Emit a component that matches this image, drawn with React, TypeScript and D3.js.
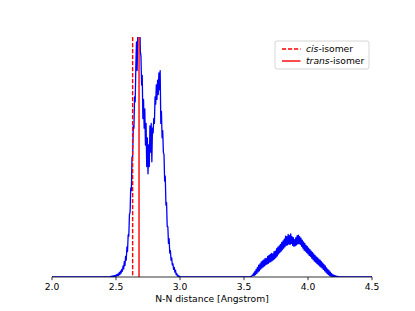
import * as d3 from "d3";

// bin start and step of the two sampled segments (Angstrom)
const peakStart = 2.45;
const humpStart = 3.55;
const binStep = 0.005;

// density, first (2.45 – 3.00) and second (3.55 – 4.25) segments
const peakDensity = [
  0, 0.2, 0, 0.3, 0.1, 0.4, 0.1, 0.6, 0.2, 0.7, 0.3, 1.0, 0.5, 1.3, 0.6, 1.8, 1.0, 2.4, 1.6, 3.2,
  2.4, 4.6, 3.4, 6.4, 4.8, 8.6, 7.0, 12.4, 10.6, 17.5,
  17.0, 26.0, 27.0, 37.0, 36.0, 50.0, 50.0, 63.0, 62.0, 75.0,
  73.0, 88.0, 98.0, 86.0, 101.0, 100.0, 110.0, 112.0, 94.0, 92.0,
  80.0, 84.0, 66.0, 74.0, 62.0, 70.0, 55.0, 64.0, 46.0, 58.0,
  43.0, 55.0, 46.0, 63.0, 52.0, 64.0, 48.0, 62.0, 60.0, 66.0,
  64.0, 75.0, 72.0, 80.0, 74.0, 82.0, 76.0, 85.0, 78.0, 86.0,
  64.0, 69.0, 58.0, 61.0, 52.0, 51.0, 40.0, 42.0, 30.0, 31.0,
  21.0, 21.0, 14.0, 16.0, 10.0, 11.0, 7.0, 8.0, 5.0, 5.5,
  3.2, 4.0, 2.0, 2.8, 1.0, 1.4, 0.4, 0.7, 0.1, 0.3, 0,
];
const humpDensity = [
  0, 0.3, 0.3, 0.8, 0.6, 1.6, 0.6, 2.3, 1.0, 3.2, 1.5, 4.0, 2.1, 4.9, 2.6, 5.5, 3.3, 6.3, 3.8, 6.7,
  4.2, 7.1, 4.6, 7.7, 5.1, 7.6, 5.4, 8.6, 5.7, 9.0, 6.2, 9.4, 6.4, 9.8, 6.8, 9.6, 7.2, 10.6, 7.6,
  10.8, 8.2, 11.8, 8.8, 12.4, 9.6, 13.0, 10.2, 13.6, 10.8, 14.4, 11.4, 15.0, 12.0, 15.8, 12.6, 17.0,
  13.2, 16.8, 13.4, 17.8, 13.8, 17.2, 13.6, 18.0, 14.0, 16.8, 13.2, 16.4, 12.8, 15.6, 13.0, 16.4,
  13.4, 17.2, 13.8, 17.4, 14.0, 16.8, 13.6, 16.2, 12.8, 15.4, 12.0, 14.6, 11.2, 14.0, 10.8, 13.2,
  10.2, 12.6, 9.6, 12.0, 9.0, 11.4, 8.6, 10.8, 7.8, 10.2, 7.2, 9.6, 6.6, 9.0, 6.2, 8.4, 5.6, 8.0,
  5.2, 7.4, 4.6, 7.0, 4.2, 6.4, 3.8, 5.8, 3.2, 5.2, 2.6, 4.6, 2.0, 3.8, 1.4, 3.2, 1.0, 2.6, 0.6,
  2.0, 0.3, 1.4, 0.2, 1.0, 0.1, 0.7, 0, 0.5, 0, 0.3, 0, 0.2, 0, 0.1, 0, 0,
];

const xTicks = [2.0, 2.5, 3.0, 3.5, 4.0, 4.5];
const isomers = [
  { label: "cis", distance: 2.63, dash: "4.2 1.8" },
  { label: "trans", distance: 2.68, dash: "" },
];

const width = 415;
const height = 311;
const MARGIN = { top: 37, right: 43, bottom: 34, left: 52 };
const FONT = "DejaVu Sans, sans-serif";

const App = () => {
  const boundsWidth = width - MARGIN.left - MARGIN.right;
  const boundsHeight = height - MARGIN.top - MARGIN.bottom;

  const xScale = d3.scaleLinear().domain([2.0, 4.5]).range([0, boundsWidth]);
  const yScale = d3.scaleLinear().domain([0, 100]).range([boundsHeight, 0]);

  const points: [number, number][] = [[2.0, 0]];
  peakDensity.forEach((v, i) => points.push([peakStart + i * binStep, v]));
  humpDensity.forEach((v, i) => points.push([humpStart + i * binStep, v]));
  points.push([4.5, 0]);

  const line = d3
    .line<[number, number]>()
    .x((d) => xScale(d[0]))
    .y((d) => yScale(d[1]));

  return (
    <svg
      width={width}
      height={height}
      style={{ position: "absolute", left: 0, top: 0, fontFamily: FONT }}
    >
      <defs>
        <clipPath id="plot">
          <rect x={0} y={0} width={boundsWidth} height={boundsHeight} />
        </clipPath>
      </defs>
      <g transform={`translate(${MARGIN.left},${MARGIN.top})`}>
        <path
          d={line(points) ?? ""}
          fill="none"
          stroke="#0000ff"
          strokeWidth={1.3}
          strokeLinejoin="round"
          clipPath="url(#plot)"
        />
        {isomers.map((d) => (
          <line
            key={d.label}
            x1={xScale(d.distance)}
            x2={xScale(d.distance)}
            y1={0}
            y2={boundsHeight}
            stroke="#ff0000"
            strokeWidth={1.4}
            strokeDasharray={d.dash}
          />
        ))}
        {/* bottom spine and ticks */}
        <line x1={0} x2={boundsWidth} y1={boundsHeight} y2={boundsHeight} stroke="#000" strokeWidth={0.8} />
        {xTicks.map((t) => (
          <g key={t} transform={`translate(${xScale(t)},${boundsHeight})`}>
            <line y1={0} y2={3.2} stroke="#000" strokeWidth={0.8} />
            <text y={12.5} textAnchor="middle" fontSize={9.2} fill="#000">
              {t.toFixed(1)}
            </text>
          </g>
        ))}
        <text
          x={boundsWidth / 2}
          y={boundsHeight + 24.5}
          textAnchor="middle"
          fontSize={9.2}
          fill="#000"
        >
          N-N distance [Angstrom]
        </text>
        {/* legend */}
        <g transform={`translate(${223},${4})`}>
          <rect
            x={0}
            y={0}
            width={94}
            height={28}
            rx={2}
            fill="#fff"
            fillOpacity={0.8}
            stroke="#cccccc"
            strokeWidth={0.8}
          />
          {isomers.map((d, i) => (
            <g key={d.label} transform={`translate(0,${8 + i * 12})`}>
              <line
                x1={7}
                x2={25.5}
                y1={0}
                y2={0}
                stroke="#ff0000"
                strokeWidth={1.4}
                strokeDasharray={d.dash}
              />
              <text x={31} y={3.3} fontSize={9.2} fill="#000">
                <tspan fontStyle="italic">{d.label}</tspan>-isomer
              </text>
            </g>
          ))}
        </g>
      </g>
    </svg>
  );
};

export default App;
